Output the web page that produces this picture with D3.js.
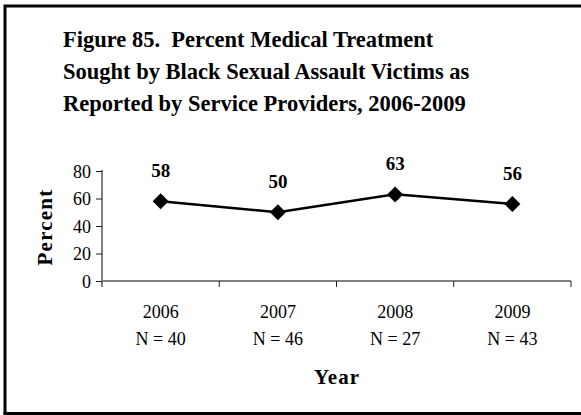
<!DOCTYPE html>
<html>
<head>
<meta charset="utf-8">
<script src="https://cdn.jsdelivr.net/npm/d3@7"></script>
<style>
  html, body { margin: 0; padding: 0; background: #fff; }
  svg { display: block; }
</style>
</head>
<body>
<div id="chart"></div>
<script>
// Data
const years = ['2006', '2007', '2008', '2009'];
const counts = ['N = 40', 'N = 46', 'N = 27', 'N = 43'];
const percents = [58, 50, 63, 56];
const yTicks = [0, 20, 40, 60, 80];
const titleLines = [
  'Figure 85.  Percent Medical Treatment',
  'Sought by Black Sexual Assault Victims as',
  'Reported by Service Providers, 2006-2009'
];

const W = 581, H = 415;
const FONT = "'Liberation Serif', 'Times New Roman', serif";
const margin = { top: 171, right: 10, bottom: 134, left: 102 };
const width = 571 - margin.left;
const height = 281 - margin.top;

const svg = d3.select('#chart').append('svg')
  .attr('width', W).attr('height', H);

// Outer frame (left, top, bottom edges)
svg.append('path')
  .attr('d', `M5,414 L5,6 L${W},6`)
  .attr('fill', 'none').attr('stroke', '#000').attr('stroke-width', 3);
svg.append('line')
  .attr('x1', 3.5).attr('x2', W).attr('y1', 413.5).attr('y2', 413.5)
  .attr('stroke', '#000').attr('stroke-width', 3);

// Title
svg.append('g').selectAll('text')
  .data(titleLines)
  .join('text')
  .attr('x', 63)
  .attr('y', (d, i) => 47 + i * 32)
  .style('font-family', FONT)
  .style('font-weight', 'bold')
  .style('font-size', '22.5px')
  .style('white-space', 'pre')
  .text(d => d);

const g = svg.append('g')
  .attr('transform', `translate(${margin.left},${margin.top})`);

const x = d3.scaleBand().domain(years).range([0, width]).padding(0);
const y = d3.scaleLinear().domain([0, 80]).range([height, 0]);

// Y axis
const yAxis = g.append('g')
  .call(d3.axisLeft(y).tickValues(yTicks).tickSize(6).tickSizeOuter(0).tickPadding(5));
yAxis.select('.domain').remove();
yAxis.selectAll('line').attr('stroke', '#222').attr('stroke-width', 1);
yAxis.selectAll('text')
  .attr('dy', '0.35em')
  .style('font-family', FONT).style('font-size', '18px').style('fill', '#000');
g.append('line')
  .attr('x1', 0).attr('x2', 0).attr('y1', y(80) - 1).attr('y2', height + 6)
  .attr('stroke', '#000').attr('stroke-width', 1);

// X axis
const xAxis = g.append('g')
  .attr('transform', `translate(0,${height})`)
  .call(d3.axisBottom(x).tickSize(0).tickFormat(''));
xAxis.select('.domain').remove();
g.append('line')
  .attr('x1', 0).attr('x2', width).attr('y1', height).attr('y2', height)
  .attr('stroke', '#808080').attr('stroke-width', 2);
g.selectAll('.xtick')
  .data(years)
  .join('line')
  .attr('class', 'xtick')
  .attr('x1', d => x(d) + x.bandwidth())
  .attr('x2', d => x(d) + x.bandwidth())
  .attr('y1', height).attr('y2', height + 6)
  .attr('stroke', '#222').attr('stroke-width', 1);

// Category labels
g.selectAll('.year')
  .data(years)
  .join('text')
  .attr('class', 'year')
  .attr('x', d => x(d) + x.bandwidth() / 2)
  .attr('y', height + 37)
  .attr('text-anchor', 'middle')
  .style('font-family', FONT).style('font-size', '18px')
  .text(d => d);
g.selectAll('.count')
  .data(counts)
  .join('text')
  .attr('class', 'count')
  .attr('x', (d, i) => x(years[i]) + x.bandwidth() / 2)
  .attr('y', height + 64)
  .attr('text-anchor', 'middle')
  .style('font-family', FONT).style('font-size', '18px')
  .text(d => d);

// Axis titles
svg.append('text')
  .attr('x', 337).attr('y', 384)
  .attr('text-anchor', 'middle')
  .style('font-family', FONT).style('font-weight', 'bold').style('font-size', '21px')
  .style('letter-spacing', '1px')
  .text('Year');
svg.append('text')
  .attr('transform', 'translate(52,227) rotate(-90)')
  .attr('text-anchor', 'middle')
  .style('font-family', FONT).style('font-weight', 'bold').style('font-size', '21px')
  .style('letter-spacing', '1.2px')
  .text('Percent');

// Line
const pts = years.map((d, i) => ({ year: d, value: percents[i] }));
const cx = d => x(d.year) + x.bandwidth() / 2;
g.append('path')
  .datum(pts)
  .attr('fill', 'none')
  .attr('stroke', '#000')
  .attr('stroke-width', 2.5)
  .attr('d', d3.line().x(cx).y(d => y(d.value)));

// Diamond markers
g.selectAll('.marker')
  .data(pts)
  .join('path')
  .attr('class', 'marker')
  .attr('transform', d => `translate(${cx(d)},${y(d.value)})`)
  .attr('d', 'M0,-8 L8,0 L0,8 L-8,0 Z')
  .attr('fill', '#000');

// Value labels
g.selectAll('.val')
  .data(pts)
  .join('text')
  .attr('class', 'val')
  .attr('x', cx)
  .attr('y', d => y(d.value) - 24)
  .attr('text-anchor', 'middle')
  .style('font-family', FONT).style('font-weight', 'bold').style('font-size', '19px')
  .text(d => d.value);
</script>
</body>
</html>
